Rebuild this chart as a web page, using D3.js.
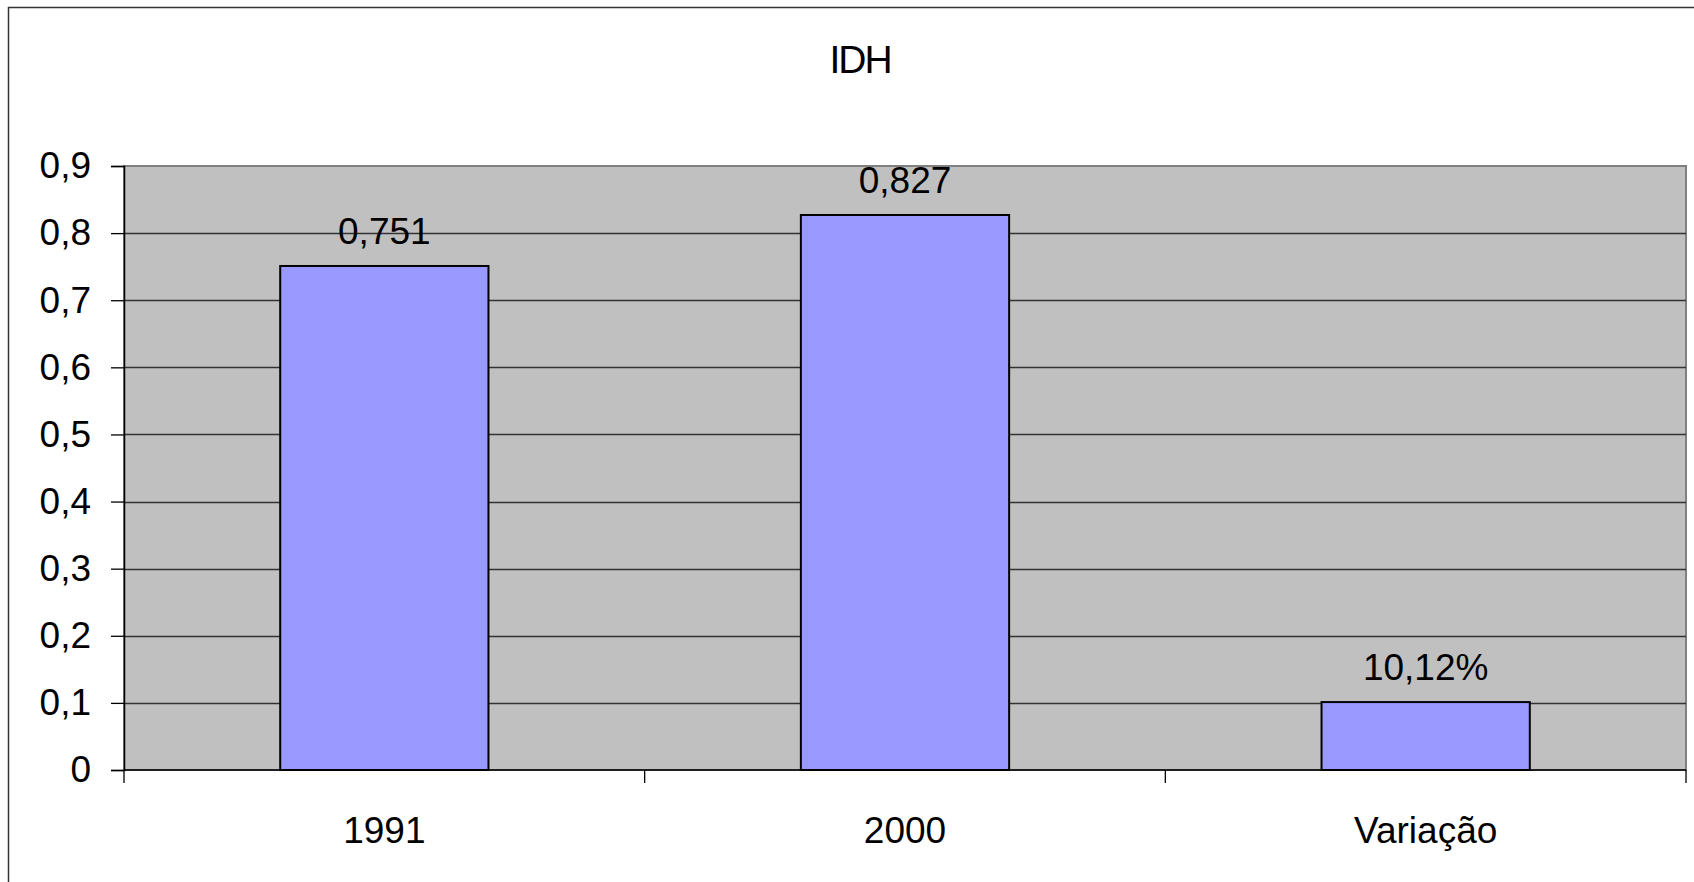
<!DOCTYPE html>
<html>
<head>
<meta charset="utf-8">
<script src="https://cdn.jsdelivr.net/npm/d3@7"></script>
<style>
  body { margin: 0; background: #fff; }
  svg { display: block; font-family: "Liberation Sans", Arial, sans-serif; }
</style>
</head>
<body>
<svg class="chart" width="1694" height="882"></svg>
<script>
// chart data
var categories = ["1991", "2000", "Variação"]
var values = [0.751, 0.827, 0.1012]
var valueLabels = ["0,751", "0,827", "10,12%"]
var yTicks = [0, 0.1, 0.2, 0.3, 0.4, 0.5, 0.6, 0.7, 0.8, 0.9]

var width = 1694, height = 882
var margin = { top: 166, right: 8, bottom: 112, left: 124 }

var svg = d3.select(".chart")

// outer chart frame (runs off the right and bottom of the picture)
svg.append("rect")
    .attr("x", 8.5).attr("y", 7.5)
    .attr("width", 1720).attr("height", 920)
    .attr("fill", "#fff")
    .attr("stroke", "#333").attr("stroke-width", 1.5)

var pt = d3.formatLocale({ decimal: ",", thousands: ".", grouping: [3], currency: ["R$", ""] })
var fmt = pt.format("~g")

var x = d3.scaleBand()
    .domain(categories)
    .range([margin.left, width - margin.right])
    .paddingInner(0.6)
    .paddingOuter(0.3)

var xb = d3.scaleBand() // full category slots for the tick separators
    .domain(categories)
    .range([margin.left, width - margin.right])

var y = d3.scaleLinear()
    .domain([0, 0.9])
    .range([height - margin.bottom, margin.top])

// plot area
svg.append("rect")
    .attr("x", margin.left).attr("y", margin.top)
    .attr("width", width - margin.right - margin.left)
    .attr("height", y(0) - margin.top)
    .attr("fill", "#c0c0c0")
    .attr("stroke", "#808080").attr("stroke-width", 2)

// gridlines
svg.append("g")
    .selectAll("line")
    .data(yTicks.filter(d => d > 0 && d < 0.9))
    .enter().append("line")
    .attr("x1", margin.left).attr("x2", width - margin.right)
    .attr("y1", d => Math.round(y(d)) + 0.5).attr("y2", d => Math.round(y(d)) + 0.5)
    .attr("stroke", "#333").attr("stroke-width", 1.3)

// bars
svg.append("g")
    .selectAll("rect")
    .data(values)
    .enter().append("rect")
    .attr("x", (d, i) => x(categories[i]))
    .attr("y", d => y(d))
    .attr("width", x.bandwidth())
    .attr("height", d => y(0) - y(d))
    .attr("fill", "#9999ff")
    .attr("stroke", "#000").attr("stroke-width", 2)

// value labels
svg.append("g")
    .attr("text-anchor", "middle")
    .style("font-size", "37px")
    .selectAll("text")
    .data(values)
    .enter().append("text")
    .attr("x", (d, i) => x(categories[i]) + x.bandwidth() / 2)
    .attr("y", d => y(d) - 22)
    .text((d, i) => valueLabels[i])

// y axis
var yAxis = d3.axisLeft(y)
    .tickValues(yTicks)
    .tickFormat(fmt)
    .tickSize(13)
    .tickPadding(20)
var gy = svg.append("g")
    .attr("transform", `translate(${margin.left},0)`)
    .call(yAxis)
gy.select(".domain").attr("stroke", "#000").attr("stroke-width", 1.5)
gy.selectAll(".tick line").attr("stroke", "#000").attr("stroke-width", 1.3)
gy.selectAll(".tick text")
    .attr("fill", "#000")
    .style("font-size", "37px")
    .style("font-family", "Liberation Sans, Arial, sans-serif")

// x axis line and category separators
svg.append("line")
    .attr("x1", margin.left).attr("x2", width - margin.right)
    .attr("y1", y(0)).attr("y2", y(0))
    .attr("stroke", "#000").attr("stroke-width", 1.5)

var seps = categories.map(c => xb(c)).concat([width - margin.right])
svg.append("g")
    .selectAll("line")
    .data(seps)
    .enter().append("line")
    .attr("x1", d => d).attr("x2", d => d)
    .attr("y1", y(0)).attr("y2", y(0) + 13)
    .attr("stroke", "#000").attr("stroke-width", 1.3)

svg.append("g")
    .attr("text-anchor", "middle")
    .style("font-size", "37px")
    .selectAll("text")
    .data(categories)
    .enter().append("text")
    .attr("x", d => xb(d) + xb.bandwidth() / 2)
    .attr("y", y(0) + 73)
    .text(d => d)

// title
svg.append("text")
    .attr("x", 860).attr("y", 73)
    .attr("text-anchor", "middle")
    .style("font-size", "39px")
    .style("letter-spacing", "-2px")
    .text("IDH")
</script>
</body>
</html>
